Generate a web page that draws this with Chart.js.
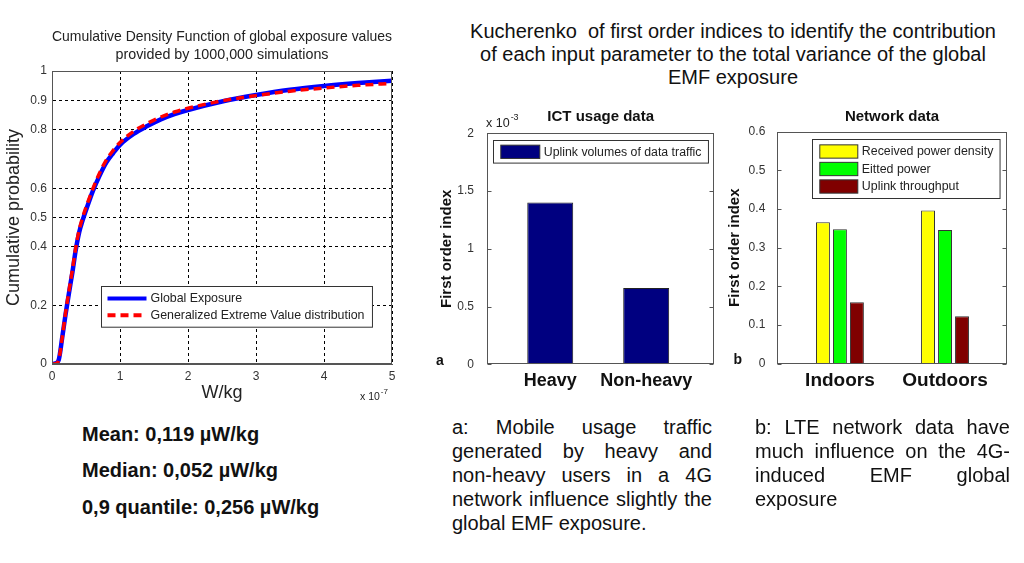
<!DOCTYPE html>
<html>
<head>
<meta charset="utf-8">
<script src="https://cdn.jsdelivr.net/npm/chart.js@4.4.1/dist/chart.umd.min.js"></script>
<style>
  body { margin: 0; width: 1024px; height: 563px; background: #fff; position: relative; overflow: hidden;
         font-family: "Liberation Sans", Arial, sans-serif; color: #111; }
  canvas { position: absolute; }
  .txt { position: absolute; white-space: nowrap; }
  .head { left: 433px; top: 19.5px; width: 600px; text-align: center; font-size: 20px; line-height: 23px; }
  .stat { left: 82px; font-size: 20px; font-weight: bold; line-height: 24px; }
  .para { font-size: 20px; line-height: 24.2px; }
  .para div { text-align: justify; text-align-last: justify; }
  .para div.last { text-align: left; text-align-last: left; }
  .tag { font-size: 14px; font-weight: bold; line-height: 16px; }
</style>
</head>
<body>
<canvas id="cdf-chart" width="420" height="420" style="left:0;top:0"></canvas>
<canvas id="usage-chart" width="300" height="300" style="left:430px;top:100px"></canvas>
<canvas id="network-chart" width="300" height="300" style="left:720px;top:100px"></canvas>

<div class="txt head">Kucherenko&nbsp; of first order indices to identify the contribution<br>of each input parameter to the total variance of the global<br>EMF exposure</div>

<div class="txt stat" style="top:422px">Mean: 0,119 µW/kg</div>
<div class="txt stat" style="top:458px">Median: 0,052 µW/kg</div>
<div class="txt stat" style="top:494.7px">0,9 quantile: 0,256 µW/kg</div>

<div class="txt tag" style="left:436px;top:352px">a</div>
<div class="txt tag" style="left:733.5px;top:351px">b</div>

<div class="txt para" style="left:452px;top:414.6px;width:260px">
  <div>a: Mobile usage traffic</div>
  <div>generated by heavy and</div>
  <div>non-heavy users in a 4G</div>
  <div>network influence slightly the</div>
  <div class="last">global EMF exposure.</div>
</div>
<div class="txt para" style="left:755px;top:414.6px;width:255px">
  <div>b: LTE network data have</div>
  <div>much influence on the 4G-</div>
  <div>induced EMF global</div>
  <div class="last">exposure</div>
</div>

<script>
// data
const exposureE7 = [0, 0.05, 0.1, 0.15, 0.2, 0.25, 0.3, 0.35, 0.4, 0.45, 0.5, 0.55, 0.6, 0.7, 0.8, 0.9, 1.0, 1.2, 1.4, 1.6, 1.8, 2.0, 2.5, 3.0, 3.5, 4.0, 4.5, 5.0]
const globalCdf = [0, 0.002, 0.015, 0.09, 0.17, 0.243, 0.313, 0.39, 0.45, 0.49, 0.525, 0.558, 0.59, 0.643, 0.688, 0.72, 0.748, 0.785, 0.812, 0.835, 0.853, 0.867, 0.896, 0.918, 0.936, 0.949, 0.959, 0.967]
const gevCdf = [0, 0.001, 0.015, 0.09, 0.175, 0.25, 0.322, 0.398, 0.458, 0.5, 0.535, 0.567, 0.598, 0.652, 0.697, 0.729, 0.756, 0.794, 0.821, 0.843, 0.86, 0.873, 0.898, 0.916, 0.931, 0.942, 0.951, 0.958]
const cdfTicks = [0, 0.2, 0.4, 0.5, 0.6, 0.8, 0.9, 1]

const usageCats = ['Heavy', 'Non-heavy']
const uplinkVolumes = [1.4e-3, 0.66e-3]

const networkCats = ['Indoors', 'Outdoors']
const receivedPower = [0.366, 0.396]
const emittedPower = [0.348, 0.346]
const uplinkThroughput = [0.159, 0.123]

// shared setup
const FONT = '"Liberation Sans", Arial, sans-serif'
Chart.defaults.font.family = FONT
Chart.defaults.color = '#222'

// plot frame like matlab axes box, optional inward ticks on y
const axesBox = {
  id: 'axesBox',
  afterDatasetsDraw(chart, args, opts) {
    const { ctx, chartArea: a } = chart
    ctx.save()
    ctx.strokeStyle = opts.color || '#555'
    ctx.lineWidth = 1
    const l = Math.round(a.left) + 0.5
    const r = Math.round(a.right) - 0.5
    const t = Math.round(a.top) + 0.5
    const b = Math.round(a.bottom) - 0.5
    ctx.strokeRect(l, t, r - l, b - t)
    if (opts.ticks) {
      const ys = chart.scales.y
      ys.ticks.forEach((tk, i) => {
        const py = Math.round(ys.getPixelForTick(i)) + 0.5
        ctx.beginPath()
        ctx.moveTo(l, py)
        ctx.lineTo(l + 4, py)
        ctx.moveTo(r, py)
        ctx.lineTo(r - 4, py)
        ctx.stroke()
      })
    }
    ctx.restore()
  },
}

// legend drawn inside the plot area
const boxLegend = {
  id: 'boxLegend',
  afterDraw(chart, args, opts) {
    if (!opts.show) return
    const { ctx, chartArea: a } = chart
    const sets = chart.data.datasets
    ctx.save()
    ctx.font = opts.font
    const textW = Math.max(...sets.map((d) => ctx.measureText(d.label).width))
    const w = opts.padL + opts.sampleW + opts.gap + textW + opts.padR
    const h = opts.firstRow * 2 + (sets.length - 1) * opts.rowH
    const x = Math.round(a.right - opts.right - w) + 0.5
    const y = Math.round(a.top + opts.top) + 0.5
    ctx.fillStyle = '#fff'
    ctx.fillRect(x, y, w, h)
    ctx.strokeStyle = '#333'
    ctx.lineWidth = 1
    ctx.strokeRect(x, y, w, h)
    sets.forEach((d, i) => {
      const cy = y + opts.firstRow + i * opts.rowH
      if (opts.sample === 'line') {
        ctx.strokeStyle = d.borderColor
        ctx.lineWidth = 4
        ctx.setLineDash(d.borderDash || [])
        ctx.beginPath()
        ctx.moveTo(x + opts.padL, cy)
        ctx.lineTo(x + opts.padL + opts.sampleW, cy)
        ctx.stroke()
        ctx.setLineDash([])
      } else {
        ctx.fillStyle = d.backgroundColor
        ctx.fillRect(x + opts.padL, cy - opts.sampleH / 2, opts.sampleW, opts.sampleH)
        ctx.strokeStyle = '#333'
        ctx.lineWidth = 1
        ctx.strokeRect(x + opts.padL, cy - opts.sampleH / 2, opts.sampleW, opts.sampleH)
      }
      ctx.fillStyle = '#222'
      ctx.textBaseline = 'middle'
      ctx.textAlign = 'left'
      ctx.fillText(d.label, x + opts.padL + opts.sampleW + opts.gap, cy + 0.5)
    })
    ctx.restore()
  },
}

// "x 10^n" multiplier text near an axis
const axisExponent = {
  id: 'axisExponent',
  afterDraw(chart, args, opts) {
    if (!opts.text) return
    const { ctx, chartArea: a } = chart
    const x = (opts.fromRight ? a.right : a.left) + opts.dx
    const y = (opts.fromBottom ? a.bottom : a.top) + opts.dy
    ctx.save()
    ctx.fillStyle = '#222'
    ctx.textBaseline = 'middle'
    ctx.textAlign = 'left'
    ctx.font = opts.size + 'px ' + FONT
    ctx.fillText(opts.text, x, y)
    const w = ctx.measureText(opts.text).width
    ctx.font = Math.round(opts.size * 0.75) + 'px ' + FONT
    ctx.fillText(opts.sup, x + w + 1, y - opts.size * 0.45)
    ctx.restore()
  },
}

Chart.register(axesBox, boxLegend, axisExponent)

// main script
printCdfChart()
printUsageChart()
printNetworkChart()

function printCdfChart() {
  const ctx = document.querySelector('#cdf-chart')
  new Chart(ctx, {
    type: 'line',
    data: {
      datasets: [
        {
          label: 'Global Exposure',
          data: exposureE7.map((x, i) => ({ x: x, y: globalCdf[i] })),
          borderColor: '#0000ff',
          borderWidth: 4.5,
          pointRadius: 0,
          cubicInterpolationMode: 'monotone',
          order: 1,
        },
        {
          label: 'Generalized Extreme Value distribution',
          data: exposureE7.map((x, i) => ({ x: x, y: gevCdf[i] })),
          borderColor: '#ff0000',
          borderWidth: 3.5,
          borderDash: [8, 5],
          pointRadius: 0,
          cubicInterpolationMode: 'monotone',
          order: 0,
        },
      ],
    },
    options: {
      responsive: false,
      animation: false,
      devicePixelRatio: 1,
      layout: { padding: { left: 0, right: 28, top: 0, bottom: 0 } },
      scales: {
        x: {
          type: 'linear',
          min: 0,
          max: 5,
          ticks: { stepSize: 1, padding: 5.5, color: '#333', font: { size: 12 } },
          grid: { color: '#000', lineWidth: 1, drawTicks: false },
          border: { dash: [3, 3], color: '#555' },
          title: { display: true, text: 'W/kg', color: '#222', font: { size: 18 }, padding: { top: 0, bottom: 16 } },
          afterFit: (scale) => { scale.height = 56 },
        },
        y: {
          min: 0,
          max: 1,
          afterBuildTicks: (scale) => { scale.ticks = cdfTicks.map((v) => ({ value: v })) },
          ticks: { padding: 5, color: '#333', font: { size: 12 }, callback: (v) => String(v) },
          grid: { color: '#000', lineWidth: 1, drawTicks: false },
          border: { dash: [3, 3], color: '#555' },
          title: { display: true, text: 'Cumulative probability', color: '#222', font: { size: 18 }, padding: { top: 3, bottom: 0 } },
          afterFit: (scale) => { scale.width = 52 },
        },
      },
      plugins: {
        legend: { display: false },
        tooltip: { enabled: false },
        title: {
          display: true,
          fullSize: false,
          text: ['Cumulative Density Function of global exposure values', 'provided by 1000,000 simulations'],
          color: '#222',
          font: { size: 14.3, weight: 'normal', lineHeight: 18 / 14.3 },
          padding: { top: 28, bottom: 7 },
        },
        axesBox: { color: '#555', ticks: false },
        boxLegend: {
          show: true, font: '12.4px ' + FONT, sample: 'line',
          right: 20, top: 214.7, padL: 6, sampleW: 39, gap: 4, padR: 8, firstRow: 12, rowH: 16.7,
        },
        axisExponent: { text: 'x 10', sup: '-7', size: 10.5, fromRight: true, fromBottom: true, dx: -32, dy: 33 },
      },
    },
  })
}

function printUsageChart() {
  const ctx = document.querySelector('#usage-chart')
  new Chart(ctx, {
    type: 'bar',
    data: {
      datasets: [
        {
          label: 'Uplink volumes of data traffic',
          data: usageCats.map((c, i) => ({ x: i + 1, y: uplinkVolumes[i] })),
          backgroundColor: '#000080',
          borderColor: '#222',
          borderWidth: 1,
          categoryPercentage: 0.479,
          barPercentage: 1,
        },
      ],
    },
    options: {
      responsive: false,
      animation: false,
      devicePixelRatio: 1,
      layout: { padding: { left: 0, right: 15.7, top: 0, bottom: 0 } },
      scales: {
        x: {
          type: 'linear',
          min: 0.341,
          max: 2.71,
          offset: false,
          afterBuildTicks: (scale) => { scale.ticks = usageCats.map((c, i) => ({ value: i + 1 })) },
          ticks: { autoSkip: false, maxRotation: 0, padding: -2, color: '#111', font: { size: 18, weight: 'bold' }, callback: (v) => usageCats[v - 1] },
          grid: { display: false },
          border: { display: false },
          afterFit: (scale) => { scale.height = 35.7 },
        },
        y: {
          min: 0,
          max: 2e-3,
          ticks: { stepSize: 0.5e-3, padding: 5, color: '#333', font: { size: 12 }, callback: (v) => String(Math.round(v * 1e4) / 10) },
          grid: { display: false },
          border: { display: false },
          title: { display: true, text: 'First order index', color: '#111', font: { size: 15, weight: 'bold' }, padding: { top: 7.7, bottom: 0 } },
          afterFit: (scale) => { scale.width = 57 },
        },
      },
      plugins: {
        legend: { display: false },
        tooltip: { enabled: false },
        title: {
          display: true,
          fullSize: false,
          text: 'ICT usage data',
          color: '#111',
          font: { size: 15, weight: 'bold', lineHeight: 1.2 },
          padding: { top: 7.7, bottom: 7.6 },
        },
        axesBox: { color: '#555', ticks: true },
        boxLegend: {
          show: true, font: '12.3px ' + FONT, sample: 'patch',
          right: 6, top: 6.7, padL: 7.3, sampleW: 39, sampleH: 13.3, gap: 4, padR: 7, firstRow: 11.3, rowH: 0,
        },
        axisExponent: { text: 'x 10', sup: '-3', size: 12.5, fromRight: false, fromBottom: false, dx: -1, dy: -10 },
      },
    },
  })
}

function printNetworkChart() {
  const ctx = document.querySelector('#network-chart')
  const series = [
    { label: 'Received power density', values: receivedPower, color: '#ffff00' },
    { label: 'Eitted power', values: emittedPower, color: '#00ff00' },
    { label: 'Uplink throughput', values: uplinkThroughput, color: '#800000' },
  ]
  new Chart(ctx, {
    type: 'bar',
    data: {
      datasets: series.map((s) => ({
        label: s.label,
        data: networkCats.map((c, i) => ({ x: i + 1, y: s.values[i] })),
        backgroundColor: s.color,
        borderColor: '#333',
        borderWidth: 1,
        categoryPercentage: 0.485,
        barPercentage: 0.82,
      })),
    },
    options: {
      responsive: false,
      animation: false,
      devicePixelRatio: 1,
      layout: { padding: { left: 0, right: 13.3, top: 0, bottom: 0 } },
      scales: {
        x: {
          type: 'linear',
          min: 0.404,
          max: 2.587,
          offset: false,
          afterBuildTicks: (scale) => { scale.ticks = networkCats.map((c, i) => ({ value: i + 1 })) },
          ticks: { autoSkip: false, maxRotation: 0, padding: -2.5, color: '#111', font: { size: 19, weight: 'bold' }, callback: (v) => networkCats[v - 1] },
          grid: { display: false },
          border: { display: false },
          afterFit: (scale) => { scale.height = 36.3 },
        },
        y: {
          min: 0,
          max: 0.6,
          ticks: { stepSize: 0.1, padding: 4, color: '#333', font: { size: 12 }, callback: (v) => (v === 0 ? '0' : v.toFixed(1)) },
          grid: { display: false },
          border: { display: false },
          title: { display: true, text: 'First order index', color: '#111', font: { size: 15, weight: 'bold' }, padding: { top: 6, bottom: 0 } },
          afterFit: (scale) => { scale.width = 57.3 },
        },
      },
      plugins: {
        legend: { display: false },
        tooltip: { enabled: false },
        title: {
          display: true,
          fullSize: false,
          text: 'Network data',
          color: '#111',
          font: { size: 15, weight: 'bold', lineHeight: 1.2 },
          padding: { top: 7.7, bottom: 6 },
        },
        axesBox: { color: '#555', ticks: true },
        boxLegend: {
          show: true, font: '12.4px ' + FONT, sample: 'patch',
          right: 6.7, top: 7.3, padL: 7.3, sampleW: 38, sampleH: 13.3, gap: 4, padR: 6.7, firstRow: 12, rowH: 17.5,
        },
        axisExponent: { text: '' },
      },
    },
  })
}
</script>
</body>
</html>
